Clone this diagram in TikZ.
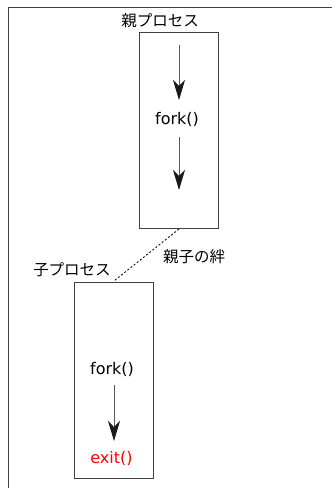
\documentclass[tikz,border=0pt]{standalone}
\usepackage{fontspec}
\setmainfont{DejaVu Sans}
\newfontfamily\jp{Noto Sans CJK JP}
\usetikzlibrary{arrows.meta}
\tikzset{
  frameline/.style={draw=black!75, line width=1pt},
  procbox/.style={draw=black!75, line width=1pt, rectangle, minimum width=79pt, minimum height=196pt, inner sep=0pt},
  lbl/.style={inner sep=0pt, font=\fontsize{16}{19}\selectfont},
  jlbl/.style={inner sep=0pt, font=\jp\fontsize{15.5}{19}\selectfont},
  flow/.style={draw=black!65, line width=1pt, -{Stealth[length=20pt,width=12pt,inset=6pt,color=black!90]}},
  bond/.style={draw=black, line width=0.8pt, dash pattern=on 2pt off 2pt}
}
\begin{document}
\begin{tikzpicture}[x=1pt,y=-1pt]
\useasboundingbox (0,0) rectangle (332,488);
\draw[frameline] (8,492) -- (8,7) -- (336,7);
% parent
\node[procbox] (parent) at (178.5,130) {};
\node[jlbl] (plabel) at (160,20.5) {親プロセス};
\coordinate (p1s) at (179,45);
\coordinate (p1e) at (179,100);
\node[lbl, anchor=base] (pfork) at (177,124) {fork()};
\coordinate (p2s) at (179,137);
\coordinate (p2e) at (179,190);
\draw[flow] (p1s) -- (p1e);
\draw[flow] (p2s) -- (p2e);
% child
\node[procbox] (child) at (113.5,380) {};
\node[jlbl] (clabel) at (72,270) {子プロセス};
\node[lbl, anchor=base] (cfork) at (112,374) {fork()};
\coordinate (c1s) at (114,385);
\coordinate (c1e) at (114,441);
\draw[flow] (c1s) -- (c1e);
\node[lbl, anchor=base, text=red] (cexit) at (111.5,463) {exit()};
% bond
\coordinate (bs) at (179,229);
\coordinate (be) at (114,281);
\draw[bond] (bs) -- (be);
\node[jlbl] (blabel) at (194,256.5) {親子の絆};
\end{tikzpicture}
\end{document}
